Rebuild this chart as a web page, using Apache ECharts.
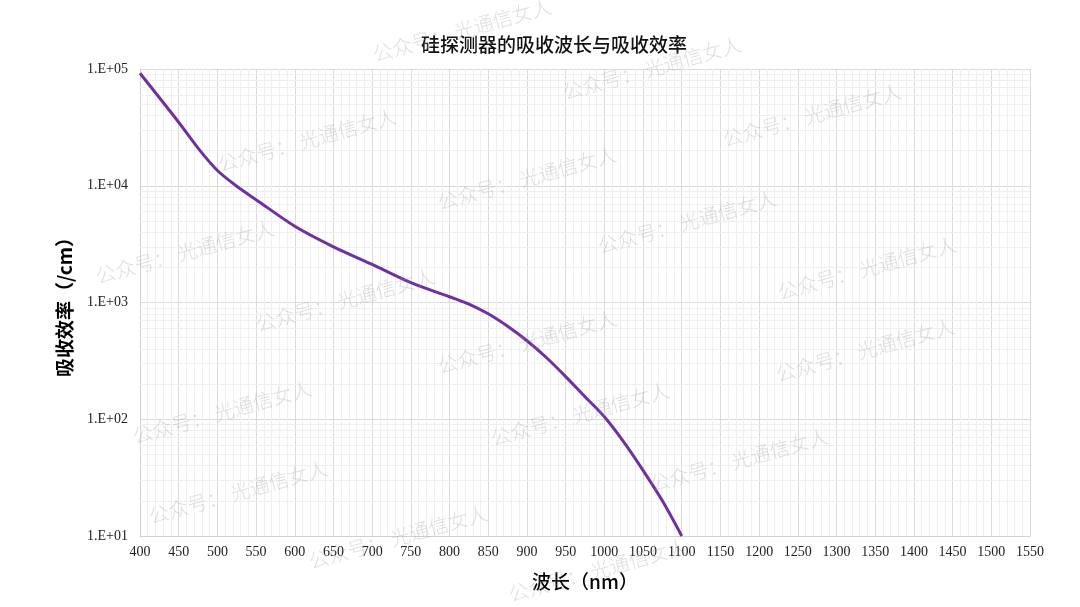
<!DOCTYPE html>
<html>
<head>
<meta charset="utf-8">
<script src="https://cdn.jsdelivr.net/npm/echarts@6/dist/echarts.min.js"></script>
<style>
html,body{margin:0;padding:0;background:#fff;}
#chart{width:1080px;height:607px;}
</style>
</head>
<body>
<div id="chart"></div>
<script>
// ---- data ----
const wavelengths = [400, 450, 475, 500, 525, 550, 600, 650, 700, 750, 800, 825, 850, 875, 900, 925, 950, 975, 1000, 1025, 1050, 1075, 1100];
const absorption  = [92000, 35000, 21000, 13500, 9900, 7600, 4500, 3000, 2120, 1480, 1120, 970, 800, 625, 470, 338, 232, 156, 105, 64, 36.5, 20, 10];
const yTickValues = [10, 100, 1000, 10000, 100000];
const yTickLabels = ['1.E+01', '1.E+02', '1.E+03', '1.E+04', '1.E+05'];
const titleText = '硅探测器的吸收波长与吸收效率';
const xName = '波长（nm）';
const yName = '吸收效率（/cm）';
const watermarkText = '公众号： 光通信女人';

// ---- layout (not data) ----
const watermarkCenters = [
  [462,30],[652,68],[812,115],[307,140],[527,178],[687,222],[185,252],[867,268],
  [345,300],[527,342],[865,350],[222,412],[580,414],[739,460],[238,492],[398,537],[598,570]
];

// minor log grid lines (2..9 in each decade)
const minorY = [];
for (let d = 10; d < 100000; d *= 10) {
  for (let k = 2; k <= 9; k++) minorY.push({ yAxis: d * k });
}

const labelMap = {};
yTickValues.forEach((v, i) => { labelMap[v] = yTickLabels[i]; });

const chart = echarts.init(document.getElementById('chart'));
const serif = 'Liberation Serif';
const cjk = '"Noto Sans CJK SC", sans-serif';

const option = {
  backgroundColor: '#fff',
  animation: false,
  title: {
    text: titleText,
    left: 549, top: 30,
    textAlign: 'center',
    textStyle: { fontFamily: cjk, fontSize: 19, fontWeight: 500, color: '#111' }
  },
  grid: { left: 140, right: 50, top: 69, bottom: 71, containLabel: false },
  xAxis: {
    type: 'value', min: 400, max: 1550, interval: 50,
    name: xName, nameLocation: 'middle', nameGap: 36,
    nameTextStyle: { fontFamily: cjk, fontSize: 19, fontWeight: 500, color: '#000' },
    axisLine: { show: true, lineStyle: { color: '#d0d0d0' } },
    axisTick: { show: false },
    axisLabel: { fontFamily: serif, fontSize: 14, color: '#222', margin: 9, formatter: v => String(v) },
    splitLine: { show: true, lineStyle: { color: '#dadada', width: 1 } },
    minorTick: { show: false, splitNumber: 5 },
    minorSplitLine: { show: true, lineStyle: { color: '#efefef', width: 1 } }
  },
  yAxis: {
    type: 'log', logBase: 10, min: 10, max: 100000,
    name: yName, nameLocation: 'middle', nameGap: 66, nameRotate: 90,
    nameTextStyle: { fontFamily: cjk, fontSize: 19, fontWeight: 'bold', color: '#000' },
    axisLine: { show: true, lineStyle: { color: '#d0d0d0' } },
    axisTick: { show: false },
    axisLabel: {
      fontFamily: serif, fontSize: 14, color: '#222', margin: 12,
      formatter: v => labelMap[Math.round(v)] || ''
    },
    splitLine: { show: true, lineStyle: { color: '#dadada', width: 1 } }
  },
  series: [
    {
      type: 'line', data: [], z: 1, silent: true,
      markLine: {
        z: 1, silent: true, symbol: ['none', 'none'], label: { show: false },
        lineStyle: { color: '#efefef', width: 1, type: 'solid' },
        emphasis: { disabled: true },
        animation: false,
        data: minorY
      }
    },
    {
      type: 'line', z: 10,
      data: wavelengths.map((w, i) => [w, absorption[i]]),
      smooth: 0.3, showSymbol: false, symbol: 'none',
      lineStyle: { color: '#7030A0', width: 3 }
    }
  ],
  graphic: watermarkCenters.map(c => ({
    type: 'text', x: c[0], y: c[1], rotation: 15.5 * Math.PI / 180, z: 100, silent: true,
    style: {
      text: watermarkText, fontFamily: cjk, fontSize: 20, fontWeight: 300,
      fill: 'rgba(160,160,160,0.35)', align: 'center', verticalAlign: 'middle'
    }
  }))
};
chart.setOption(option);
</script>
</body>
</html>
